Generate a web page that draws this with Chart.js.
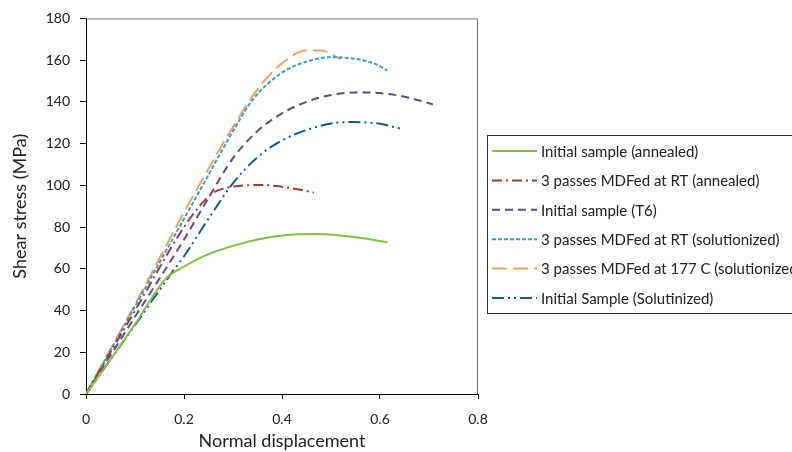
<!DOCTYPE html>
<html>
<head>
<meta charset="utf-8">
<script src="https://cdn.jsdelivr.net/npm/chart.js@4/dist/chart.umd.min.js"></script>
<style>
  html, body { margin: 0; padding: 0; background: #fff; }
  #wrap { width: 792px; height: 452px; position: relative; }
</style>
</head>
<body>
<div id="wrap"><canvas id="myChart" width="792" height="452"></canvas></div>
<script>
// ---------------- data ----------------
var seriesNames = [
    'Initial sample (annealed)',
    '3 passes MDFed at RT (annealed)',
    'Initial sample (T6)',
    '3 passes MDFed at RT (solutionized)',
    '3 passes MDFed at 177 C (solutionized)',
    'Initial Sample (Solutinized)'
];

var xAnnealed = [0, 0.05, 0.1, 0.163, 0.2, 0.25, 0.3, 0.35, 0.4, 0.46, 0.52, 0.57, 0.615];
var yAnnealed = [0, 16.5, 33.5, 55.3, 61, 67, 71, 74, 76, 76.7, 76, 74.5, 72.7];

var xMdfRtAnnealed = [0, 0.1, 0.2, 0.235, 0.26, 0.29, 0.33, 0.36, 0.4, 0.44, 0.465];
var yMdfRtAnnealed = [0, 40, 80, 91, 96.5, 99, 100, 100.2, 99.3, 97.8, 96.5];

var xT6 = [0, 0.1, 0.2, 0.25, 0.3, 0.35, 0.4, 0.45, 0.5, 0.55, 0.6, 0.65, 0.708];
var yT6 = [0, 37, 74, 94, 113, 126, 134.5, 140, 143.3, 144.5, 144.2, 142.5, 138.8];

var xMdfRtSol = [0, 0.1, 0.2, 0.25, 0.3, 0.34, 0.4, 0.45, 0.5, 0.55, 0.59, 0.615];
var yMdfRtSol = [0, 42, 84, 105, 126, 141, 154, 159.3, 161.4, 160.6, 158.2, 155];

var xMdf177Sol = [0, 0.1, 0.2, 0.25, 0.3, 0.35, 0.4, 0.45, 0.48, 0.52];
var yMdf177Sol = [0, 43, 87, 108, 128, 146, 158.5, 164.6, 164.6, 160.5];

var xSolutinized = [0, 0.1, 0.17, 0.2, 0.25, 0.3, 0.35, 0.4, 0.45, 0.5, 0.54, 0.6, 0.644];
var ySolutinized = [0, 33, 56.5, 66, 84, 101, 113.5, 121.5, 126.5, 129.6, 130.3, 129.5, 127];

var xTicks = [0, 0.2, 0.4, 0.6, 0.8];
var yTicks = [0, 20, 40, 60, 80, 100, 120, 140, 160, 180];

// ---------------- styles ----------------
var colors = ['#86c044', '#a8373a', '#5b4e8c', '#3b9fc4', '#f0a15c', '#0f5c8e'];
var dashes = [[], [10, 4, 2, 4], [8, 5], [4, 2], [15, 6], [12, 4, 2, 4, 2, 4]];
var FONT = "Lato, 'Open Sans', sans-serif";

function pts(xs, ys) {
    return xs.map(function (x, i) { return { x: x, y: ys[i] }; });
}

var allX = [xAnnealed, xMdfRtAnnealed, xT6, xMdfRtSol, xMdf177Sol, xSolutinized];
var allY = [yAnnealed, yMdfRtAnnealed, yT6, yMdfRtSol, yMdf177Sol, ySolutinized];

var datasets = seriesNames.map(function (name, i) {
    return {
        label: name,
        data: pts(allX[i], allY[i]),
        borderColor: colors[i],
        borderDash: dashes[i],
        borderWidth: 2,
        pointRadius: 0,
        showLine: true,
        fill: false,
        cubicInterpolationMode: 'monotone'
    };
});

// box round the plot area and legend drawn at the right
var framePlugin = {
    id: 'frame',
    beforeDatasetsDraw: function (chart) {
        var a = chart.chartArea, c = chart.ctx;
        c.save();
        c.strokeStyle = '#777';
        c.lineWidth = 1;
        c.beginPath();
        c.moveTo(a.left, a.top + 0.5);
        c.lineTo(a.right - 0.5, a.top + 0.5);
        c.lineTo(a.right - 0.5, a.bottom);
        c.stroke();
        c.restore();
    },
    afterDraw: function (chart) {
        var c = chart.ctx;
        var bx = 487, by = 135, bw = 320, bh = 178;
        c.save();
        c.strokeStyle = '#333';
        c.lineWidth = 1;
        c.strokeRect(bx + 0.5, by + 0.5, bw, bh);
        c.font = '15px ' + FONT;
        c.fillStyle = '#222';
        c.textBaseline = 'middle';
        chart.data.datasets.forEach(function (ds, i) {
            var y = 151 + i * 29.4;
            c.strokeStyle = ds.borderColor;
            c.lineWidth = 2;
            c.setLineDash(ds.borderDash);
            c.beginPath();
            c.moveTo(492, y);
            c.lineTo(537, y);
            c.stroke();
            c.setLineDash([]);
            c.fillText(ds.label, 541, y + 1);
        });
        c.restore();
    }
};

var ctx = document.getElementById('myChart').getContext('2d');
var chart = new Chart(ctx, {
    type: 'scatter',
    data: { datasets: datasets },
    options: {
        responsive: false,
        animation: false,
        layout: { padding: { left: 0, top: 17, right: 314, bottom: 0 } },
        plugins: {
            legend: { display: false },
            tooltip: { enabled: false }
        },
        scales: {
            x: {
                type: 'linear',
                min: 0,
                max: 0.8,
                afterBuildTicks: function (s) { s.ticks = xTicks.map(function (v) { return { value: v }; }); },
                afterFit: function (s) { s.height = 58; },
                border: { color: '#000', width: 1 },
                grid: { drawOnChartArea: false, tickLength: 5, color: '#000' },
                ticks: {
                    color: '#222',
                    font: { family: FONT, size: 14 },
                    padding: 12,
                    maxRotation: 0,
                    callback: function (v) { return String(v); }
                },
                title: {
                    display: true,
                    text: 'Normal displacement',
                    color: '#222',
                    font: { family: FONT, size: 18 },
                    padding: { top: 4, bottom: 0 }
                }
            },
            y: {
                min: 0,
                max: 180,
                afterBuildTicks: function (s) { s.ticks = yTicks.map(function (v) { return { value: v }; }); },
                afterFit: function (s) { s.width = 86; },
                border: { color: '#000', width: 1 },
                grid: { drawOnChartArea: false, tickLength: 6, color: '#000' },
                ticks: {
                    color: '#222',
                    font: { family: FONT, size: 14 },
                    padding: 10
                },
                title: {
                    display: true,
                    text: 'Shear stress (MPa)',
                    color: '#222',
                    font: { family: FONT, size: 18 },
                    padding: { top: 9, bottom: 4 }
                }
            }
        }
    },
    plugins: [framePlugin]
});
</script>
</body>
</html>
